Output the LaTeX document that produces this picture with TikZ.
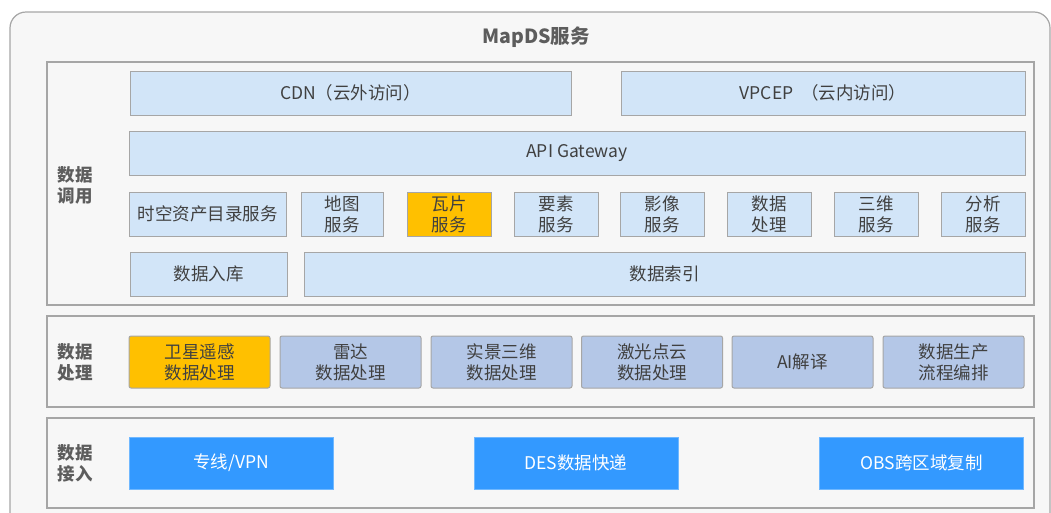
\documentclass[tikz,border=0pt]{standalone}
\usepackage{fontspec}
\setmainfont{Noto Sans CJK SC}
\definecolor{bgcol}{HTML}{F7F7F7}
\definecolor{edgecol}{HTML}{A6A6A6}
\definecolor{lightblue}{HTML}{D2E5F8}
\definecolor{greyblue}{HTML}{B4C7E7}
\definecolor{gold}{HTML}{FFC000}
\definecolor{brightblue}{HTML}{3399FF}
\definecolor{txtcol}{HTML}{404040}
\begin{document}
\begin{tikzpicture}[x=1pt, y=-1pt,
  panel/.style={draw=edgecol, line width=1.2pt, fill=bgcol},
  lbox/.style={draw=edgecol, line width=1pt, fill=lightblue, text=txtcol, align=center,
    inner sep=0pt, font=\fontsize{17.5}{21}\selectfont, minimum height=44},
  pbox/.style={lbox, fill=greyblue, rounded corners=2pt, minimum width=141, minimum height=52},
  hbox/.style={fill=gold},
  abox/.style={fill=brightblue, draw=brightblue!70!white, text=white, inner sep=0pt,
    font=\fontsize{17.5}{21}\selectfont, minimum width=204, minimum height=52},
  side/.style={text=txtcol!85!white, align=center, font=\bfseries\fontsize{17.5}{21}\selectfont}]

\useasboundingbox (0,0) rectangle (1051,512);
\fill[white] (0,0) rectangle (1051,512);
\draw [draw=edgecol, line width=1.2pt, fill=bgcol, rounded corners=16pt] (10,12) rectangle (1050,530);
\node [text=txtcol!85!white, font=\bfseries\fontsize{19.5}{22}\selectfont] (title) at (536,37) {MapDS服务};

% data call layer
\draw [panel] (47,62) rectangle (1034,305);
\node [side] (callside) at (75,185) {数据\\调用};
\node [lbox, minimum width=441] (cdn) at (350.5,93) {CDN（云外访问）};
\node [lbox, minimum width=404] (vpcep) at (823,93) {VPCEP \ （云内访问）};
\node [lbox, minimum width=896] (api) at (577,153) {API Gateway};
\node [lbox, minimum width=157] (catalog) at (207.5,214) {时空资产目录服务};
\node [lbox, minimum width=82] (map) at (342,214) {地图\\服务};
\node [lbox, hbox, minimum width=84] (tile) at (449,214) {瓦片\\服务};
\node [lbox, minimum width=84] (feature) at (556,214) {要素\\服务};
\node [lbox, minimum width=84] (image) at (662,214) {影像\\服务};
\node [lbox, minimum width=84] (proc) at (769,214) {数据\\处理};
\node [lbox, minimum width=84] (threed) at (876,214) {三维\\服务};
\node [lbox, minimum width=84] (analysis) at (983,214) {分析\\服务};
\node [lbox, minimum width=157] (ingest) at (208.5,274) {数据入库};
\node [lbox, minimum width=721] (index) at (664.5,274) {数据索引};

% data processing layer
\draw [panel] (47,316) rectangle (1034,407);
\node [side] (procside) at (75,362) {数据\\处理};
\node [pbox, hbox] (satellite) at (199.5,362) {卫星遥感\\数据处理};
\node [pbox] (radar) at (350.5,362) {雷达\\数据处理};
\node [pbox] (reality) at (501.5,362) {实景三维\\数据处理};
\node [pbox] (lidar) at (652,362) {激光点云\\数据处理};
\node [pbox] (ai) at (802.5,362) {AI解译};
\node [pbox] (workflow) at (953.5,362) {数据生产\\流程编排};

% data access layer
\draw [panel] (47,418) rectangle (1034,508);
\node [side] (accside) at (75,463) {数据\\接入};
\node [abox] (vpn) at (231,463) {专线/VPN};
\node [abox] (des) at (576,463) {DES数据快递};
\node [abox] (obs) at (921.5,463) {OBS跨区域复制};

\end{tikzpicture}
\end{document}
